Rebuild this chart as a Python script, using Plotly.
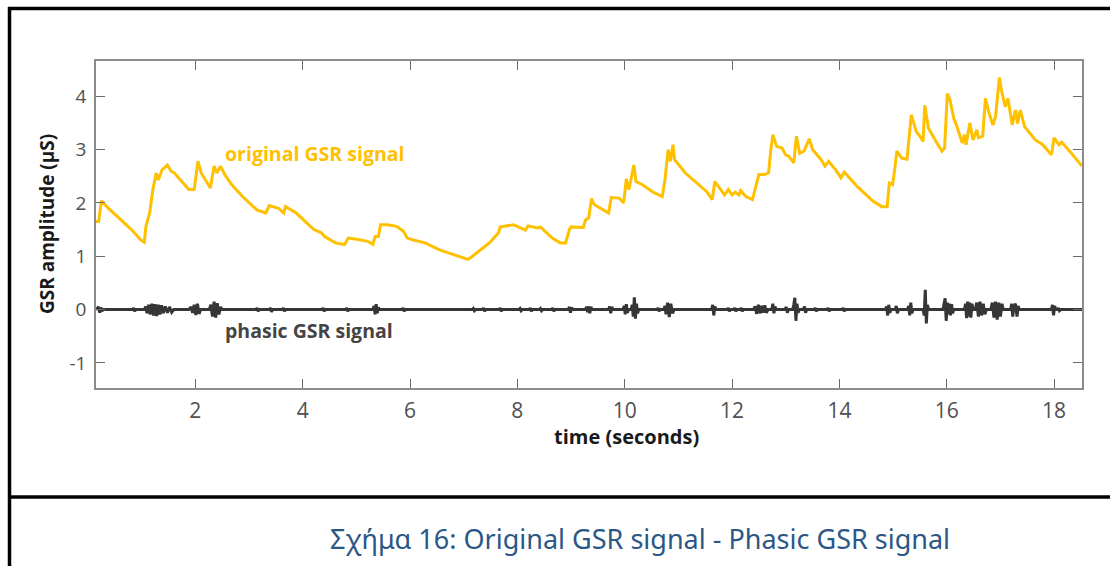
import plotly.graph_objects as go

# ---------------- data ----------------
gsr_time = [0.15, 0.20, 0.25, 0.35, 0.48, 0.65, 0.81, 0.98, 1.05, 1.08, 1.15, 1.21, 1.27, 1.31, 1.38,
            1.48, 1.55, 1.61, 1.75, 1.88, 1.98, 2.05, 2.11, 2.28, 2.35, 2.40, 2.47, 2.55, 2.68, 2.88,
            3.08, 3.15, 3.31, 3.38, 3.55, 3.65, 3.68, 3.88, 4.21, 4.35, 4.41, 4.61, 4.78, 4.85, 5.01,
            5.21, 5.31, 5.35, 5.41, 5.45, 5.58, 5.75, 5.88, 5.95, 6.08, 6.28, 6.55, 6.81, 7.08, 7.15,
            7.31, 7.48, 7.65, 7.68, 7.81, 7.93, 8.15, 8.20, 8.38, 8.43, 8.65, 8.80, 8.90, 8.97, 9.00,
            9.23, 9.27, 9.33, 9.38, 9.43, 9.70, 9.75, 9.90, 9.98, 10.03, 10.08, 10.17, 10.21, 10.33,
            10.53, 10.70, 10.75, 10.81, 10.85, 10.90, 10.93, 11.13, 11.33, 11.53, 11.63, 11.68, 11.86,
            11.93, 12.00, 12.06, 12.13, 12.16, 12.26, 12.38, 12.43, 12.50, 12.60, 12.68, 12.72, 12.76,
            12.83, 12.93, 13.00, 13.06, 13.15, 13.20, 13.26, 13.34, 13.44, 13.50, 13.66, 13.73, 13.80,
            13.93, 14.03, 14.09, 14.33, 14.63, 14.79, 14.89, 14.93, 14.99, 15.03, 15.07, 15.16, 15.26,
            15.34, 15.43, 15.50, 15.56, 15.59, 15.66, 15.80, 15.91, 15.96, 16.01, 16.06, 16.13, 16.19,
            16.29, 16.33, 16.36, 16.43, 16.49, 16.56, 16.59, 16.67, 16.72, 16.78, 16.86, 16.91, 16.98,
            17.02, 17.09, 17.14, 17.22, 17.28, 17.32, 17.37, 17.45, 17.65, 17.79, 17.95, 18.00, 18.09,
            18.14, 18.29, 18.42, 18.52]
gsr_value = [1.65, 1.65, 2.04, 1.93, 1.81, 1.65, 1.50, 1.31, 1.26, 1.56, 1.81, 2.25, 2.56, 2.43, 2.62,
             2.71, 2.59, 2.56, 2.40, 2.25, 2.25, 2.78, 2.56, 2.28, 2.69, 2.56, 2.69, 2.53, 2.34, 2.12,
             1.93, 1.87, 1.81, 1.95, 1.90, 1.81, 1.93, 1.81, 1.50, 1.44, 1.37, 1.25, 1.22, 1.34, 1.32,
             1.28, 1.22, 1.37, 1.37, 1.59, 1.59, 1.56, 1.47, 1.34, 1.30, 1.25, 1.12, 1.03, 0.94, 0.99,
             1.12, 1.25, 1.44, 1.55, 1.57, 1.59, 1.49, 1.57, 1.53, 1.55, 1.34, 1.25, 1.25, 1.50, 1.55,
             1.54, 1.68, 1.72, 2.08, 1.97, 1.81, 2.10, 2.09, 2.00, 2.45, 2.25, 2.71, 2.40, 2.34,
             2.20, 2.12, 2.43, 3.00, 2.78, 3.09, 2.81, 2.56, 2.38, 2.21, 2.06, 2.40, 2.15,
             2.25, 2.15, 2.20, 2.15, 2.23, 2.12, 2.06, 2.26, 2.53, 2.53, 2.56, 2.97, 3.28,
             3.06, 3.03, 2.90, 2.87, 2.75, 3.25, 2.93, 2.97, 3.20, 3.00, 2.81, 2.69, 2.78,
             2.62, 2.47, 2.58, 2.31, 2.03, 1.93, 1.93, 2.37, 2.34, 2.62, 2.97, 2.84, 2.82,
             3.65, 3.34, 3.25, 3.15, 3.83, 3.40, 3.15, 2.97, 3.03, 4.05, 3.93, 3.59, 3.43,
             3.12, 3.28, 3.09, 3.50, 3.18, 3.37, 3.22, 3.25, 3.96, 3.71, 3.46, 3.62, 4.35,
             4.11, 3.80, 3.96, 3.46, 3.74, 3.49, 3.74, 3.43, 3.18, 3.09, 2.90, 3.22, 3.09,
             3.14, 2.97, 2.81, 2.69]

phasic_time = [0.15, 0.20, 0.22, 0.24, 0.26, 0.28, 0.83, 0.85, 0.87, 0.89,
               1.05, 1.08, 1.10, 1.13, 1.16, 1.19, 1.22, 1.25, 1.28, 1.31, 1.34, 1.37, 1.40, 1.44, 1.48, 1.52, 1.56, 1.60,
               1.88, 1.92, 1.95, 1.98, 2.01, 2.04, 2.07, 2.10,
               2.26, 2.29, 2.32, 2.35, 2.38, 2.41, 2.44, 2.47, 2.50,
               3.13, 3.15, 3.17, 3.19, 3.38, 3.40, 3.42, 3.44, 3.62, 3.64, 3.66, 3.68,
               4.36, 4.38, 4.40, 4.42, 4.80, 4.82, 4.84, 4.86,
               5.31, 5.33, 5.35, 5.37, 5.39, 5.41, 5.43, 5.85, 5.87, 5.89, 5.91,
               7.16, 7.18, 7.20, 7.22, 7.35, 7.37, 7.39, 7.41, 7.66, 7.68, 7.70, 7.72,
               8.03, 8.05, 8.07, 8.09, 8.22, 8.24, 8.26, 8.28, 8.41, 8.43, 8.45, 8.47, 8.64, 8.66, 8.68, 8.70,
               8.95, 8.97, 8.99, 9.01, 9.03, 9.27, 9.29, 9.31, 9.33, 9.35, 9.37, 9.39,
               9.70, 9.72, 9.74, 9.76, 9.78, 9.97, 9.99, 10.01, 10.03, 10.05, 10.07,
               10.12, 10.14, 10.16, 10.18, 10.20, 10.22, 10.24, 10.26,
               10.60, 10.62, 10.64, 10.66, 10.73, 10.75, 10.77, 10.80, 10.83, 10.86, 10.89, 10.92,
               11.62, 11.64, 11.66, 11.68, 11.70, 11.91, 11.93, 11.95, 11.97, 12.03, 12.05, 12.07, 12.09,
               12.15, 12.17, 12.19, 12.21,
               12.40, 12.43, 12.46, 12.49, 12.52, 12.55, 12.58, 12.61, 12.64, 12.67,
               12.74, 12.76, 12.78, 12.80, 12.82, 12.99, 13.01, 13.03, 13.05,
               13.13, 13.15, 13.17, 13.19, 13.21, 13.23, 13.25, 13.33, 13.35, 13.37, 13.39,
               13.53, 13.55, 13.57, 13.59, 13.77, 13.79, 13.81, 13.83, 14.05, 14.07, 14.09, 14.11,
               14.86, 14.88, 14.90, 14.92, 14.94, 14.96, 15.04, 15.06, 15.08, 15.10,
               15.27, 15.29, 15.31, 15.33, 15.35, 15.37, 15.56, 15.58, 15.60, 15.62, 15.64, 15.66,
               15.93, 15.95, 15.97, 15.99, 16.01, 16.03, 16.05, 16.07, 16.09, 16.11, 16.13,
               16.33, 16.35, 16.37, 16.39, 16.41, 16.43, 16.45, 16.47, 16.49,
               16.53, 16.56, 16.59, 16.62, 16.65, 16.68, 16.71, 16.74,
               16.82, 16.85, 16.88, 16.91, 16.94, 16.97, 17.00, 17.03, 17.05,
               17.19, 17.21, 17.23, 17.25, 17.28, 17.31, 17.33, 17.35,
               17.95, 17.97, 17.99, 18.01, 18.03, 18.06, 18.08, 18.10, 18.12, 18.52]
phasic_value = [0, 0.05, -0.06, 0.04, -0.03, 0, 0, 0.03, -0.03, 0,
                0, 0.06, -0.07, 0.09, -0.09, 0.11, -0.11, 0.10, -0.12, 0.09, -0.09, 0.08, -0.07, 0.06, -0.06, 0.05, -0.05, 0,
                0, 0.05, -0.06, 0.09, -0.10, 0.11, -0.08, 0,
                0, 0.09, -0.13, 0.15, -0.15, 0.12, -0.09, 0.05, 0,
                0, 0.03, -0.03, 0, 0, 0.03, -0.04, 0, 0, 0.03, -0.03, 0,
                0, 0.03, -0.03, 0, 0, 0.03, -0.03, 0,
                0, 0.07, -0.09, 0.10, -0.07, 0.04, 0, 0, 0.03, -0.03, 0,
                0, 0.02, -0.02, 0, 0, 0.03, -0.03, 0, 0, 0.03, -0.03, 0,
                0, 0.02, -0.02, 0, 0, 0.03, -0.03, 0, 0, 0.02, -0.02, 0, 0, 0.03, -0.03, 0,
                0, 0.05, -0.06, 0.04, 0, 0, 0.05, -0.05, 0.06, -0.07, 0.05, 0,
                0, 0.06, -0.07, 0.05, 0, 0, 0.07, -0.09, 0.10, -0.06, 0,
                0, 0.09, -0.13, 0.23, -0.17, 0.11, -0.07, 0,
                0, 0.03, -0.03, 0, 0, 0.07, -0.09, 0.13, -0.14, 0.11, -0.07, 0,
                0, 0.09, -0.11, 0.06, 0, 0, 0.03, -0.03, 0, 0, 0.03, -0.03, 0,
                0, 0.03, -0.03, 0,
                0, 0.06, -0.08, 0.09, -0.07, 0.07, -0.06, 0.08, -0.06, 0,
                0, 0.11, -0.07, 0.06, 0, 0, 0.05, -0.06, 0,
                0, 0.09, 0.22, -0.21, 0.11, -0.06, 0, 0, 0.06, -0.06, 0,
                0, 0.03, -0.03, 0, 0, 0.03, -0.03, 0, 0, 0.03, -0.03, 0,
                0, 0.06, -0.11, 0.09, -0.06, 0, 0, 0.07, -0.07, 0,
                0, 0.07, -0.11, 0.13, -0.07, 0, 0, -0.11, 0.37, -0.26, 0.09, 0,
                0, 0.11, 0.21, -0.21, 0.13, -0.09, 0.11, -0.11, 0.10, -0.07, 0,
                0, 0.11, -0.16, 0.15, -0.13, 0.13, -0.15, 0.11, 0,
                0, 0.13, -0.13, 0.15, -0.11, 0.11, -0.09, 0,
                0, 0.13, -0.15, 0.15, -0.19, 0.13, -0.13, 0.11, 0,
                0, 0.11, -0.13, 0.06, 0.11, -0.13, 0.07, 0,
                0, 0.09, -0.11, 0.07, 0, 0, 0.03, -0.02, 0, 0]

x_ticks = [2, 4, 6, 8, 10, 12, 14, 16, 18]
y_ticks = [-1, 0, 1, 2, 3, 4]

x_title = "time (seconds)"
y_title = "GSR amplitude (µS)"
label_original = "original GSR signal"
label_phasic = "phasic GSR signal"
caption = "Σχήμα 16: Original GSR signal - Phasic GSR signal"

# ---------------- figure ----------------
W, H = 1110, 566
L, R, T, B = 96, 1082, 61, 388
pw, ph = R - L, B - T


def px(xp):
    return (xp - L) / pw


def py(yp):
    return (B - yp) / ph


FONT = "Open Sans"
ORANGE = "#FFC000"
DARK = "#363636"

fig = go.Figure()
fig.add_trace(go.Scatter(x=phasic_time, y=phasic_value, mode="lines",
                         line=dict(color=DARK, width=3), showlegend=False, hoverinfo="skip"))
fig.add_trace(go.Scatter(x=gsr_time, y=gsr_value, mode="lines",
                         line=dict(color=ORANGE, width=3), showlegend=False, hoverinfo="skip"))

axis_common = dict(showgrid=False, zeroline=False, showline=True, linecolor="#8c8c8c", linewidth=1.5,
                   mirror="ticks", ticks="inside", ticklen=9, tickwidth=1.3, tickcolor="#6a6a6a")

fig.update_layout(
    width=W, height=H,
    margin=dict(l=L, r=W - R, t=T, b=H - B, pad=0),
    paper_bgcolor="white", plot_bgcolor="white",
    xaxis=dict(range=[0.15, 18.52], tickvals=x_ticks, ticktext=[str(v) for v in x_ticks],
               tickfont=dict(family=FONT, size=21, color="#505050"), ticklabelstandoff=3, **axis_common),
    yaxis=dict(range=[-1.47, 4.66], tickvals=y_ticks, ticktext=[str(v) for v in y_ticks],
               tickfont=dict(family=FONT, size=19, color="#505050"), ticklabelstandoff=4, **axis_common),
)

annotations = [
    dict(text=f"<b>{x_title}</b>", x=px(626), y=py(436), xref="paper", yref="paper",
         showarrow=False, xanchor="center", yanchor="middle",
         font=dict(family=FONT, size=20, color="#1a1a1a")),
    dict(text=f"<b>{y_title}</b>", x=px(47), y=py(224), xref="paper", yref="paper",
         showarrow=False, xanchor="center", yanchor="middle", textangle=-90,
         font=dict(family=FONT, size=19, color="#1a1a1a")),
    dict(text=f"<b>{label_original}</b>", x=px(223), y=py(153), xref="paper", yref="paper",
         showarrow=False, xanchor="left", yanchor="middle",
         font=dict(family=FONT, size=19.5, color=ORANGE)),
    dict(text=f"<b>{label_phasic}</b>", x=px(223), y=py(330), xref="paper", yref="paper",
         showarrow=False, xanchor="left", yanchor="middle",
         font=dict(family=FONT, size=19.5, color="#444444")),
    dict(text=caption, x=px(640), y=py(538), xref="paper", yref="paper",
         showarrow=False, xanchor="center", yanchor="middle",
         font=dict(family="Noto Sans", size=27, color="#2B5786")),
]
fig.update_layout(annotations=annotations)

shapes = [
    dict(type="line", xref="paper", yref="paper", x0=px(8), x1=px(1120), y0=py(8.5), y1=py(8.5),
         line=dict(color="black", width=3.5)),
    dict(type="line", xref="paper", yref="paper", x0=px(9.5), x1=px(9.5), y0=py(7), y1=py(575),
         line=dict(color="black", width=3.5)),
    dict(type="line", xref="paper", yref="paper", x0=px(8), x1=px(1120), y0=py(497), y1=py(497),
         line=dict(color="black", width=3.5)),
]
fig.update_layout(shapes=shapes)

fig.write_html("out.html")
